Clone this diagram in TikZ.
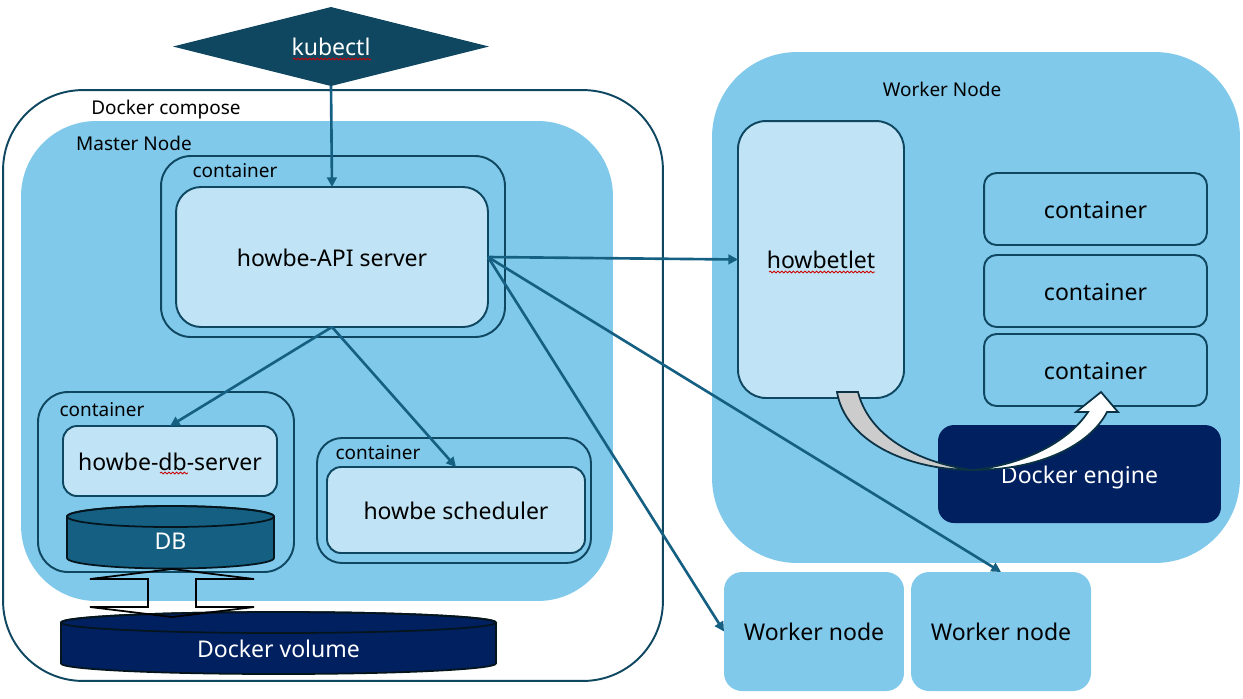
\documentclass[tikz,border=0pt]{standalone}
\usepackage{fontspec}
\setmainfont{Noto Sans}
\usetikzlibrary{arrows.meta,shapes.geometric,decorations.pathmorphing}
\definecolor{nodeblue}{HTML}{80C9EB}
\definecolor{paleblue}{HTML}{C0E4F5}
\definecolor{edgeblue}{HTML}{0F4761}
\definecolor{linkblue}{HTML}{156082}
\definecolor{navyfill}{HTML}{002060}
\tikzset{
	x=0.02cm, y=-0.02cm,
	bigtext/.style={text height=10.4pt, text depth=0pt, font=\fontsize{13.1}{16}\selectfont},
	plate/.style={fill=nodeblue, outer sep=0pt},
	holder/.style={draw=edgeblue, line width=1.1pt, fill=nodeblue, outer sep=0pt},
	pale/.style={draw=edgeblue, line width=1.1pt, fill=paleblue, outer sep=0pt, bigtext},
	slot/.style={holder, minimum width=4.46cm, minimum height=1.44cm, rounded corners=0.25cm, bigtext},
	tag/.style={inner sep=0pt, font=\fontsize{10.8}{13}\selectfont},
	drum/.style={draw=black!70!edgeblue, line width=1pt},
	drumtext/.style={text=white, inner sep=0pt, bigtext},
	link/.style={draw=linkblue, line width=1.5pt, -{Triangle[length=5.5pt,width=5.5pt]}},
	spell/.style={draw=red!80!black, line width=0.5pt, decorate, decoration={snake, amplitude=0.5pt, segment length=2.2pt}}
}
\begin{document}
\begin{tikzpicture}
	\useasboundingbox (0,0) rectangle (1243,698);

	% master side
	\node[draw=edgeblue, line width=1.1pt, rounded corners=1.6cm, minimum width=13.2cm, minimum height=11.82cm] (compose) at (333,385.5) {};
	\node[plate, rounded corners=1.5cm, minimum width=11.84cm, minimum height=9.6cm] (master) at (317,361) {};
	\node[holder, rounded corners=0.6cm, minimum width=6.88cm, minimum height=3.62cm] (apibox) at (333,246.5) {};
	\node[pale, rounded corners=0.5cm, minimum width=6.24cm, minimum height=2.8cm] (api) at (332,257) {howbe-API server};
	\node[holder, rounded corners=0.6cm, minimum width=5.12cm, minimum height=3.6cm] (dbbox) at (166,482) {};
	\node[pale, rounded corners=0.28cm, minimum width=4.28cm, minimum height=1.4cm] (dbserver) at (170,461) {howbe-db-server};
	\node[holder, rounded corners=0.5cm, minimum width=5.48cm, minimum height=2.5cm] (schedbox) at (454,500.5) {};
	\node[pale, rounded corners=0.28cm, minimum width=5.16cm, minimum height=1.72cm] (sched) at (456,510) {howbe scheduler};

	% DB and volume
	\draw[drum, fill=linkblue] (67,516.5) -- (67,558) arc[start angle=180, end angle=360, x radius=2.07cm, y radius=0.21cm] -- (274,516.5) arc[start angle=0, end angle=180, x radius=2.07cm, y radius=0.21cm] -- cycle;
	\draw[drum] (170.5,516.5) ellipse[x radius=2.07cm, y radius=0.21cm];
	\node[drumtext] (db) at (170.5,540) {DB};
	\draw[drum, fill=navyfill] (61,622.5) -- (61,663.5) arc[start angle=180, end angle=360, x radius=4.35cm, y radius=0.21cm] -- (496,622.5) arc[start angle=0, end angle=180, x radius=4.35cm, y radius=0.21cm] -- cycle;
	\draw[drum] (278.5,622.5) ellipse[x radius=4.35cm, y radius=0.21cm];
	\node[drumtext] (volume) at (278.5,648) {Docker volume};

	\node[tag] (composetag) at (166,110) {Docker compose};
	\node[tag] (mastertag) at (134,143) {Master Node};
	\node[tag] (apitag) at (235,171) {container};
	\node[tag] (dbtag) at (102,410) {container};
	\node[tag] (schedtag) at (378,453) {container};

	% arrow between DB and volume
	\draw[black, line width=1pt] (172,569) -- (254,579) -- (196,579) -- (196,607) -- (254,607) -- (172,617) -- (90,607) -- (148,607) -- (148,579) -- (90,579) -- cycle;

	% worker side
	\node[plate, rounded corners=1.7cm, minimum width=10.56cm, minimum height=10.22cm] (worker) at (976,307.5) {};
	\node[tag] (workertag) at (942,89) {Worker Node};
	\node[pale, rounded corners=0.56cm, minimum width=3.32cm, minimum height=5.54cm] (howbetlet) at (821,259.5) {howbetlet};
	\node[slot] (slota) at (1095.5,209) {container};
	\node[slot] (slotb) at (1095.5,291) {container};
	\node[slot] (slotc) at (1095.5,370) {container};
	\node[fill=navyfill, text=white, rounded corners=0.32cm, minimum width=5.66cm, minimum height=1.96cm, outer sep=0pt, bigtext] (engine) at (1079.5,474) {Docker engine};
	\node[plate, rounded corners=0.36cm, minimum width=3.6cm, minimum height=2.38cm, bigtext] (nodea) at (814,631.5) {Worker node};
	\node[plate, rounded corners=0.36cm, minimum width=3.6cm, minimum height=2.38cm, bigtext] (nodeb) at (1001,631.5) {Worker node};

	\node[diamond, fill=edgeblue, text=white, aspect=4, inner sep=0pt, outer sep=0pt, minimum width=6.32cm, minimum height=1.58cm, bigtext] (kubectl) at (331,46.5) {kubectl};

	% curved arrow
	\draw[fill=black!20, draw=edgeblue!70!black, line width=1pt] (837,392) .. controls (845,440) and (905,470) .. (973,470) .. controls (925,464) and (870,440) .. (858,392) -- cycle;
	\draw[fill=white, draw=edgeblue!70!black, line width=1pt] (973,470) .. controls (1040,470) and (1090,445) .. (1107,412) -- (1118,412) -- (1101,392) -- (1076,412) -- (1088,412) .. controls (1068,442) and (1025,464) .. (973,470) -- cycle;

	% links
	\draw[link] (kubectl.south) -- (api.north);
	\draw[link] (api.east) -- (howbetlet.west);
	\draw[link] (api.east) -- (nodea.west);
	\draw[link] (api.east) -- (nodeb.north);
	\draw[link] (api.south) -- (dbserver.north);
	\draw[link] (api.south) -- (sched.north);

	% spell check marks
	\draw[spell] (293,59) -- (371,59);
	\draw[spell] (769,272) -- (875,272);
	\draw[spell] (160,473) -- (188,473);
\end{tikzpicture}
\end{document}
